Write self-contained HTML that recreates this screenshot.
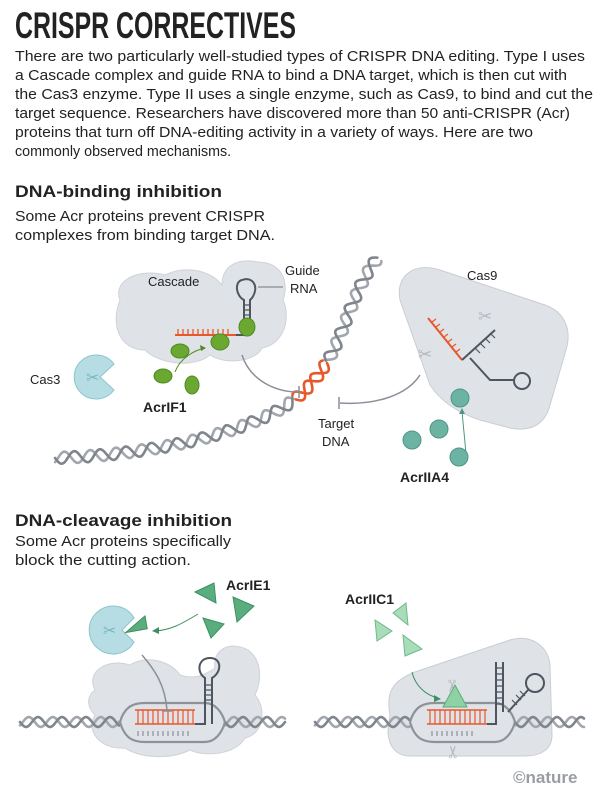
<!DOCTYPE html>
<html><head><meta charset="utf-8"><style>
body{margin:0;background:#fff;width:601px;height:795px;overflow:hidden}
svg{display:block}
.t{font-family:"Liberation Sans",sans-serif;fill:#222}
.p{font-size:14.3px}
.b{font-weight:bold}
.l{font-size:13px}
</style></head><body>
<svg id="s" width="601" height="795" viewBox="0 0 601 795" xmlns="http://www.w3.org/2000/svg">
<text class="t b" x="15" y="38" font-size="37" textLength="281" lengthAdjust="spacingAndGlyphs" style="font-family:'Liberation Sans Narrow','Liberation Sans',sans-serif">CRISPR CORRECTIVES</text>
<g class="t p">
<text x="15" y="61" textLength="570" lengthAdjust="spacingAndGlyphs">There are two particularly well-studied types of CRISPR DNA editing. Type I uses</text>
<text x="15" y="80" textLength="552" lengthAdjust="spacingAndGlyphs">a Cascade complex and guide RNA to bind a DNA target, which is then cut with</text>
<text x="15" y="99" textLength="578" lengthAdjust="spacingAndGlyphs">the Cas3 enzyme. Type II uses a single enzyme, such as Cas9, to bind and cut the</text>
<text x="15" y="118" textLength="555" lengthAdjust="spacingAndGlyphs">target sequence. Researchers have discovered more than 50 anti-CRISPR (Acr)</text>
<text x="15" y="137" textLength="518" lengthAdjust="spacingAndGlyphs">proteins that turn off DNA-editing activity in a variety of ways. Here are two</text>
<text x="15" y="156">commonly observed mechanisms.</text>
<text x="15" y="221" textLength="250" lengthAdjust="spacingAndGlyphs">Some Acr proteins prevent CRISPR</text>
<text x="15" y="240" textLength="260" lengthAdjust="spacingAndGlyphs">complexes from binding target DNA.</text>
<text x="15" y="546" textLength="216" lengthAdjust="spacingAndGlyphs">Some Acr proteins specifically</text>
<text x="15" y="565" textLength="176" lengthAdjust="spacingAndGlyphs">block the cutting action.</text>
</g>
<text class="t b" x="15" y="197" font-size="17" textLength="207" lengthAdjust="spacingAndGlyphs">DNA-binding inhibition</text>
<text class="t b" x="15" y="526" font-size="17" textLength="217" lengthAdjust="spacingAndGlyphs">DNA-cleavage inhibition</text>

<path id="h1" d="M55 458 C140 455,220 440,275 412 C320 388,335 350,348 315 C358 290,366 272,378 258" fill="none" stroke="none"/>
<g id="helix1"></g>

<path d="M120 300 C112 280,140 268,165 275 C185 265,210 270,222 285 C222 265,238 258,258 262 C280 262,290 280,283 300 C292 320,282 345,262 348 C255 362,225 365,210 355 C195 368,160 365,145 350 C120 350,110 325,120 300Z" fill="#dfe2e7" stroke="#cfd3d9"/>
<path d="M175 335 H236" stroke="#e8572a" stroke-width="2" fill="none"/>
<path d="M178 335 v-6 M183 335 v-6 M188 335 v-6 M193 335 v-6 M198 335 v-6 M203 335 v-6 M208 335 v-6 M213 335 v-6 M218 335 v-6 M223 335 v-6 M228 335 v-6" stroke="#e8572a" stroke-width="1.3"/>
<path d="M236 335 H244 V300 C236 296,234 282,242 280 C252 276,260 286,252 298 L250 300 V335" stroke="#4d5560" stroke-width="2" fill="none"/>
<path d="M244 305 h6 M244 310 h6 M244 315 h6 M244 320 h6" stroke="#4d5560" stroke-width="1.2"/>
<line x1="258" y1="287" x2="283" y2="287" stroke="#777" stroke-width="1"/>
<text class="t l" x="148" y="286">Cascade</text>
<text class="t l" x="285" y="275">Guide</text>
<text class="t l" x="290" y="293">RNA</text>
<g fill="#6aa832" stroke="#4f8a22" stroke-width="1">
<ellipse cx="247" cy="327" rx="8" ry="9"/>
<ellipse cx="220" cy="342" rx="9" ry="8"/>
<ellipse cx="180" cy="351" rx="9" ry="7"/>
<ellipse cx="163" cy="376" rx="9" ry="7"/>
<ellipse cx="192" cy="385" rx="7" ry="9"/>
</g>
<path d="M175 372 C180 358,195 350,205 348" stroke="#4f8a22" fill="none"/>
<path d="M206 348 l-6 -3 l1 6z" fill="#4f8a22"/>
<text class="t b" x="143" y="412" font-size="14">AcrIF1</text>
<path d="M114 364 A22 22 0 1 0 114 390 L100 377Z" fill="#b7dde4" stroke="#8cc4ce"/>
<text x="86" y="383" font-size="16" fill="#7ab6c0" font-family="DejaVu Sans">✂</text>
<text class="t l" x="30" y="384">Cas3</text>
<path d="M242 355 C250 380,275 392,298 392" stroke="#8a9099" stroke-width="1.5" fill="none"/>
<line x1="299" y1="386" x2="299" y2="398" stroke="#8a9099" stroke-width="1.5"/>
<path d="M420 375 C405 398,370 405,340 403" stroke="#8a9099" stroke-width="1.5" fill="none"/>
<line x1="339" y1="397" x2="339" y2="409" stroke="#8a9099" stroke-width="1.5"/>
<text class="t l" x="318" y="428">Target</text>
<text class="t l" x="322" y="446">DNA</text>
<path d="M400 300 C395 275,415 262,440 270 L545 305 C565 312,572 330,566 350 L550 405 C545 425,530 432,510 428 L480 420 C455 412,440 400,430 385 Z" fill="#dfe2e7" stroke="#c9cdd4"/>
<text class="t l" x="467" y="280">Cas9</text>
<text x="478" y="322" font-size="17" fill="#b4b9c0" font-family="DejaVu Sans">✂</text>
<text x="418" y="360" font-size="17" fill="#b4b9c0" font-family="DejaVu Sans">✂</text>
<path d="M428 318 L462 360" stroke="#e8572a" stroke-width="2"/>
<path d="M432 322 l4 -3 M436 327 l4 -3 M440 332 l4 -3 M444 337 l4 -3 M448 342 l4 -3 M452 347 l4 -3 M456 352 l4 -3" stroke="#e8572a" stroke-width="1.2"/>
<path d="M462 360 L495 330 M470 358 L490 380 L515 380" stroke="#4d5560" stroke-width="2" fill="none"/>
<path d="M475 348 l5 5 M480 343 l5 5 M485 338 l5 5 M490 333 l5 5" stroke="#4d5560" stroke-width="1.2"/>
<circle cx="522" cy="381" r="8" fill="none" stroke="#4d5560" stroke-width="2"/>
<circle cx="460" cy="398" r="9" fill="#6db3a3" stroke="#4e9585"/>
<path d="M466 455 C465 440,463 425,462 410" stroke="#4e9585" fill="none"/>
<path d="M462 408 l-3 6 l6 0z" fill="#4e9585"/>
<g fill="#6db3a3" stroke="#4e9585"><circle cx="412" cy="440" r="9"/><circle cx="439" cy="429" r="9"/><circle cx="459" cy="457" r="9"/></g>
<text class="t b" x="400" y="482" font-size="14">AcrIIA4</text>

<!-- BOTTOM LEFT -->
<path d="M95 690 C85 670,110 658,130 665 C145 655,170 660,180 675 C195 680,205 675,215 668 C212 650,230 640,248 650 C262 660,262 680,255 695 C268 710,262 735,245 738 C235 755,205 757,190 750 C170 760,140 758,125 748 C100 750,85 730,95 715 C85 705,88 695,95 690Z" fill="#dfe2e7" stroke="#cfd3d9"/>
<path id="h2" d="M20 722 H120" fill="none"/><path id="h3" d="M225 722 H285" fill="none"/>
<path id="h4" d="M315 722 H410" fill="none"/><path id="h5" d="M515 722 H585" fill="none"/>
<g id="helixB"></g>
<g fill="none" stroke-width="2.2">
<path d="M120 722 C125 705,135 703,145 703 H205 C215 703,222 712,225 722 M120 722 C125 740,135 742,145 742 H205 C215 742,222 733,225 722" stroke="#8d9299"/>
</g>
<path d="M135 710 H195 M135 724 H195" stroke="#e8572a" stroke-width="1.5"/>
<path d="M138 710 V724 M143 710 V724 M148 710 V724 M153 710 V724 M158 710 V724 M163 710 V724 M168 710 V724 M173 710 V724 M178 710 V724 M183 710 V724 M188 710 V724 M193 710 V724" stroke="#e8572a" stroke-width="1.2"/>
<path d="M138 736 v-5 M143 736 v-5 M148 736 v-5 M153 736 v-5 M158 736 v-5 M163 736 v-5 M168 736 v-5 M173 736 v-5 M178 736 v-5 M183 736 v-5 M188 736 v-5" stroke="#8d9299" stroke-width="1.2"/>
<path d="M195 724 H205 V678 C196 672,198 658,210 658 C222 658,222 672,212 678 V724" stroke="#4d5560" stroke-width="2" fill="none"/>
<path d="M205 685 h7 M205 690 h7 M205 695 h7 M205 700 h7" stroke="#4d5560" stroke-width="1.2"/>
<path d="M134 618 A24 24 0 1 0 134 642 L122 630Z" fill="#b7dde4" stroke="#8cc4ce"/>
<text x="103" y="636" font-size="16" fill="#7ab6c0" font-family="DejaVu Sans">✂</text>
<path d="M147 630 L125 630 L147 617Z" fill="#5aae7d" stroke="#3e8f62" transform="rotate(-10 140 628)"/>
<path d="M198 614 C180 625,170 630,155 631" stroke="#3e8f62" fill="none"/>
<path d="M152 631 l7 -4 l0 7z" fill="#3e8f62"/>
<path d="M142 655 C155 670,165 685,167 710" stroke="#8a9099" stroke-width="1.5" fill="none"/>
<line x1="162" y1="711" x2="172" y2="711" stroke="#8a9099" stroke-width="1.5"/>
<g fill="#5aae7d" stroke="#3e8f62">
<path d="M195 592 L214 583 L216 603Z"/>
<path d="M233 597 L254 606 L237 622Z"/>
<path d="M203 618 L224 624 L211 638Z"/>
</g>
<text class="t b" x="226" y="590" font-size="14">AcrIE1</text>

<!-- BOTTOM RIGHT -->
<path d="M390 715 C385 690,395 680,415 672 L510 640 C530 634,548 645,550 665 L552 735 C552 750,540 756,525 756 H410 C395 756,388 745,388 730Z" fill="#dfe2e7" stroke="#c9cdd4"/>
<g id="helixR"></g>
<g fill="none" stroke-width="2.2">
<path d="M410 722 C415 705,425 703,435 703 H495 C505 703,512 712,515 722 M410 722 C415 740,425 742,435 742 H495 C505 742,512 733,515 722" stroke="#8d9299"/>
</g>
<path d="M427 710 H487 M427 724 H487" stroke="#e8572a" stroke-width="1.5"/>
<path d="M430 710 V724 M435 710 V724 M440 710 V724 M445 710 V724 M450 710 V724 M455 710 V724 M460 710 V724 M465 710 V724 M470 710 V724 M475 710 V724 M480 710 V724 M485 710 V724" stroke="#e8572a" stroke-width="1.2"/>
<path d="M432 736 v-5 M437 736 v-5 M442 736 v-5 M447 736 v-5 M452 736 v-5 M457 736 v-5 M462 736 v-5 M467 736 v-5 M472 736 v-5" stroke="#8d9299" stroke-width="1.2"/>
<path d="M487 724 H496 V662 M503 662 V712" stroke="#4d5560" stroke-width="2" fill="none"/>
<path d="M496 668 h7 M496 674 h7 M496 680 h7 M496 686 h7 M496 692 h7 M496 698 h7 M496 704 h7" stroke="#4d5560" stroke-width="1.2"/>
<path d="M508 712 L528 690" stroke="#4d5560" stroke-width="2"/>
<circle cx="535" cy="683" r="9" fill="none" stroke="#4d5560" stroke-width="2"/>
<path d="M512 700 l5 5 M516 695 l5 5 M520 691 l5 5" stroke="#4d5560" stroke-width="1.2"/>
<text x="443" y="694" font-size="17" fill="#b4b9c0" font-family="DejaVu Sans" transform="rotate(90 452 688)">✂</text>
<text x="443" y="757" font-size="17" fill="#b4b9c0" font-family="DejaVu Sans" transform="rotate(-90 452 750)">✂</text>
<path d="M455 685 L467 707 L443 707Z" fill="#8fd0a4" stroke="#5aae7d"/>
<path d="M412 672 C415 685,425 695,438 698" stroke="#3e8f62" fill="none"/>
<path d="M441 699 l-7 -4 l0 7z" fill="#3e8f62"/>
<g fill="#a9dcb8" stroke="#6fb98a">
<path d="M375 620 L392 631 L377 641Z"/>
<path d="M406 603 L408 625 L393 613Z"/>
<path d="M403 635 L422 649 L405 656Z"/>
</g>
<text class="t b" x="345" y="604" font-size="14">AcrIIC1</text>

<text x="513" y="783" font-size="17" fill="#9a9ea4" font-family="Liberation Sans Narrow,Liberation Sans,sans-serif" font-weight="bold">©nature</text>
</svg>
<script>
(function(){
var NS="http://www.w3.org/2000/svg";
function helix(id,g,A,P,orange){
  var p=document.getElementById(id),L=p.getTotalLength(),step=1.5;
  var b1=[],b2=[],a1=[],a2=[],o1=[],o2=[];
  for(var s=0;s<=L;s+=step){
    var a=p.getPointAtLength(s),b=p.getPointAtLength(Math.min(L,s+0.5)),c=p.getPointAtLength(Math.max(0,s-0.5));
    var dx=b.x-c.x,dy=b.y-c.y,d=Math.hypot(dx,dy)||1,nx=-dy/d,ny=dx/d;
    var th=2*Math.PI*s/P;
    var y1=A*Math.sin(th),y2=A*Math.sin(th+2.4);
    var pt1=(a.x+nx*y1).toFixed(1)+","+(a.y+ny*y1).toFixed(1);
    var pt2=(a.x+nx*y2).toFixed(1)+","+(a.y+ny*y2).toFixed(1);
    if(!orange||s<orange[0]){b1.push(pt1);b2.push(pt2);}
    else if(s<=orange[1]){o1.push(pt1);o2.push(pt2);}
    else{a1.push(pt1);a2.push(pt2);}
  }
  function add(pts,col,w){if(pts.length<2)return;var e=document.createElementNS(NS,"polyline");e.setAttribute("points",pts.join(" "));e.setAttribute("fill","none");e.setAttribute("stroke",col);e.setAttribute("stroke-width",w);e.setAttribute("stroke-linecap","round");g.appendChild(e);}
  add(b2,"#a3a7ad",2.6);add(a2,"#a3a7ad",2.6);
  add(b1,"#7f858c",2.6);add(a1,"#7f858c",2.6);
  add(o2,"#e8572a",2.6);add(o1,"#e8572a",2.6);
}
var g1=document.getElementById("helix1"),gb=document.getElementById("helixB"),gr=document.getElementById("helixR");
var L=document.getElementById("h1").getTotalLength();
helix("h1",g1,6,26,[L*0.60,L*0.72]);
helix("h2",gb,5,24,null);helix("h3",gb,5,24,null);
helix("h4",gr,5,24,null);helix("h5",gr,5,24,null);
})();
</script>
</body></html>
